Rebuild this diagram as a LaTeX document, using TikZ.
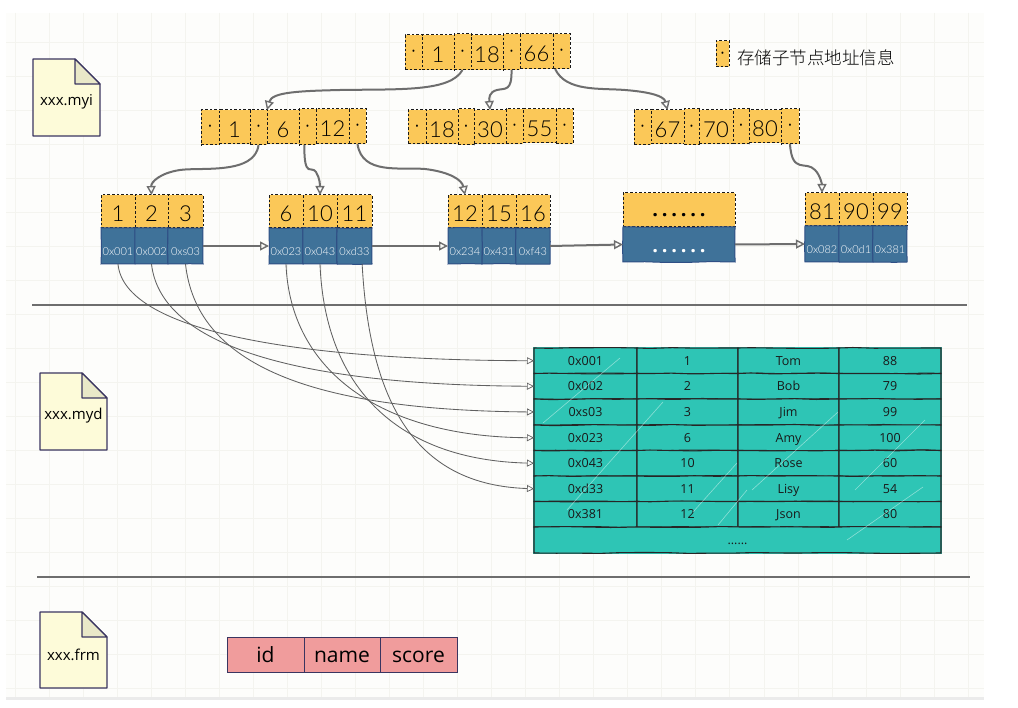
\documentclass[tikz,border=0pt]{standalone}
\usepackage{fontspec}
\setmainfont{Open Sans}
\newfontfamily\cjk{Noto Sans CJK SC Light}
\newfontfamily\hand{Lato Light}
\usetikzlibrary{arrows.meta,decorations.pathmorphing}
\definecolor{paper}{HTML}{FDFDFB}
\definecolor{gridc}{HTML}{F4F4EF}
\definecolor{keyy}{HTML}{FBC858}
\definecolor{leafb}{HTML}{3F7299}
\definecolor{leafe}{HTML}{2F4F85}
\definecolor{teal}{HTML}{2EC5B5}
\definecolor{pinkc}{HTML}{F09C9C}
\definecolor{filec}{HTML}{FDFBD9}
\definecolor{foldc}{HTML}{E9E8C8}
\definecolor{linec}{HTML}{6E6E6E}
\definecolor{filee}{HTML}{3A3560}
\newcommand\fs[1]{\fontsize{#1}{#1}\selectfont}
\newcommand\mkcell[7]{%
  \pgfmathsetmacro\cw{#4-#2}\pgfmathsetmacro\ch{#5-#3}%
  \node[#6,minimum width=\cw pt,minimum height=\ch pt] (#1) at ({(#2+#4)/2},{(#3+#5)/2}) {#7};}
\newcommand\ptr{\fs{9}•}
\newcommand\dotrow{.\kern3.8pt.\kern3.8pt.\kern3.8pt.\kern3.8pt.\kern3.8pt.}
\tikzset{
  base/.style={inner sep=0pt,outer sep=0pt,align=center},
  wob/.style={decorate,decoration={random steps,segment length=22pt,amplitude=.5pt}},
  dashbox/.style={base,fill=keyy,draw=black!90,line width=1pt,dash pattern=on 2.6pt off 2pt},
  keyc/.style={dashbox,font=\hand\fs{22},text height=21pt,text depth=0pt},
  ptrc/.style={dashbox},
  blue/.style={base,wob,fill=leafb,draw=leafe,line width=1pt,text=white,font=\hand\fs{11},text height=20pt,text depth=0pt},
  tab/.style={base,wob,fill=teal,draw=black!85,line width=1.1pt,font=\fs{12.5},text=black!90,text height=9pt,text depth=0pt},
  pink/.style={base,fill=pinkc,draw=filee,line width=1pt,font=\fs{21}},
  tree/.style={draw=linec,line width=2pt,-{Triangle[open,length=9pt,width=9pt,line width=1.4pt]}},
  thin link/.style={draw=black!62,line width=.85pt,-{Triangle[open,length=7pt,width=7pt,line width=.7pt]}},
  sep/.style={draw=linec,line width=1.4pt},
  filebody/.style={fill=filec,draw=filee,line width=1.1pt,line join=round},
  filefold/.style={fill=foldc,draw=filee,line width=1.1pt,line join=round},
  filetext/.style={base,font=\fs{15}},
  streak/.style={draw=white,line width=.6pt,opacity=.45},
}
\begin{document}
\begin{tikzpicture}[x=1pt,y=-1pt]
\pgfmathsetseed{7}
\useasboundingbox (0,0) rectangle (1018,708);
\fill[white] (0,0) rectangle (1018,708);
\fill[paper] (6,13) rectangle (984,697);
\foreach \i in {0,...,28} \draw[gridc,line width=.7pt] ({15+34.04*\i},13) -- ({15+34.04*\i},697);
\foreach \j in {0,...,19} \draw[gridc,line width=.7pt] (6,{42+34*\j}) -- (984,{42+34*\j});
\fill[black!8] (6,697) rectangle (984,699.5);

% separators
\coordinate (s1a) at (32,305); \coordinate (s1b) at (967,305);
\coordinate (s2a) at (37,577); \coordinate (s2b) at (970,577);
\draw[sep] (s1a) -- (s1b);
\draw[sep] (s2a) -- (s2b);

% root
\mkcell{r1}{405}{35}{422}{70}{ptrc}{\ptr}
\mkcell{rk1}{422}{35}{454}{70}{keyc}{1}
\mkcell{r2}{454}{34}{471}{70}{ptrc}{\ptr}
\mkcell{rk2}{471}{35}{503}{70}{keyc}{18}
\mkcell{r3}{503}{34}{520}{70}{ptrc}{\ptr}
\mkcell{rk3}{520}{34}{553}{69}{keyc}{66}
\mkcell{r4}{553}{34}{570}{69}{ptrc}{\ptr}

% level 2 left
\mkcell{a1}{201}{110}{219}{145}{ptrc}{\ptr}
\mkcell{ak1}{219}{110}{250}{144}{keyc}{1}
\mkcell{a2}{250}{110}{267}{145}{ptrc}{\ptr}
\mkcell{ak2}{267}{110}{299}{144}{keyc}{6}
\mkcell{a3}{299}{109}{316}{145}{ptrc}{\ptr}
\mkcell{ak3}{316}{109}{349}{144}{keyc}{12}
\mkcell{a4}{349}{109}{366}{144}{ptrc}{\ptr}

% level 2 middle
\mkcell{b1}{408}{110}{426}{144}{ptrc}{\ptr}
\mkcell{bk1}{426}{110}{458}{144}{keyc}{18}
\mkcell{b2}{458}{109}{474}{145}{ptrc}{\ptr}
\mkcell{bk2}{474}{110}{506}{144}{keyc}{30}
\mkcell{b3}{506}{109}{523}{144}{ptrc}{\ptr}
\mkcell{bk3}{523}{109}{556}{143}{keyc}{55}
\mkcell{b4}{556}{109}{573}{144}{ptrc}{\ptr}

% level 2 right
\mkcell{c1}{634}{110}{651}{145}{ptrc}{\ptr}
\mkcell{ck1}{651}{110}{684}{144}{keyc}{67}
\mkcell{c2}{684}{109}{699}{145}{ptrc}{\ptr}
\mkcell{ck2}{699}{110}{733}{144}{keyc}{70}
\mkcell{c3}{733}{109}{749}{144}{ptrc}{\ptr}
\mkcell{ck3}{749}{110}{781}{143}{keyc}{80}
\mkcell{c4}{781}{109}{799}{144}{ptrc}{\ptr}

% legend
\mkcell{lg}{716}{41}{729}{67}{ptrc}{\ptr}
\node[base,anchor=west,font=\cjk\fs{17.5}] (lgt) at (737,58) {存储子节点地址信息};

% leaves
\mkcell{k11}{101}{195}{135}{228}{keyc}{1}
\mkcell{k12}{135}{195}{168}{228}{keyc}{2}
\mkcell{k13}{168}{195}{203}{228}{keyc}{3}
\mkcell{p11}{101}{228}{135}{264}{blue}{0x001}
\mkcell{p12}{135}{228}{168}{264}{blue}{0x002}
\mkcell{p13}{168}{228}{203}{264}{blue}{0xs03}

\mkcell{k21}{269}{195}{303}{228}{keyc}{6}
\mkcell{k22}{303}{195}{337}{228}{keyc}{10}
\mkcell{k23}{337}{195}{372}{228}{keyc}{11}
\mkcell{p21}{269}{228}{303}{264}{blue}{0x023}
\mkcell{p22}{303}{228}{337}{264}{blue}{0x043}
\mkcell{p23}{337}{228}{372}{264}{blue}{0xd33}

\mkcell{k31}{448}{195}{482}{228}{keyc}{12}
\mkcell{k32}{482}{195}{516}{228}{keyc}{15}
\mkcell{k33}{516}{195}{550}{228}{keyc}{16}
\mkcell{p31}{448}{228}{482}{264}{blue}{0x234}
\mkcell{p32}{482}{228}{516}{264}{blue}{0x431}
\mkcell{p33}{516}{228}{550}{264}{blue}{0xf43}

\mkcell{k41}{623}{193}{735}{227}{keyc,font=\bfseries\fs{20},text height=14pt}{\dotrow}
\mkcell{p41}{623}{227}{735}{262}{blue,font=\bfseries\fs{20},text height=17pt}{\dotrow}

\mkcell{k51}{805}{193}{839}{226}{keyc}{81}
\mkcell{k52}{839}{193}{873}{226}{keyc}{90}
\mkcell{k53}{873}{193}{907}{226}{keyc}{99}
\mkcell{p51}{805}{226}{839}{262}{blue}{0x082}
\mkcell{p52}{839}{226}{873}{262}{blue}{0x0d1}
\mkcell{p53}{873}{226}{907}{262}{blue}{0x381}

% table
\fill[teal] (533,347) rectangle (942,554);
\newcommand\tabrow[7]{%
  \mkcell{t#1a}{534}{#2}{637}{#3}{tab}{#4}
  \mkcell{t#1b}{637}{#2}{738}{#3}{tab}{#5}
  \mkcell{t#1c}{738}{#2}{839}{#3}{tab}{#6}
  \mkcell{t#1d}{839}{#2}{941}{#3}{tab}{#7}}
\tabrow{1}{348}{373.5}{0x001}{1}{Tom}{88}
\tabrow{2}{373.5}{399}{0x002}{2}{Bob}{79}
\tabrow{3}{399}{425}{0xs03}{3}{Jim}{99}
\tabrow{4}{425}{450.5}{0x023}{6}{Amy}{100}
\tabrow{5}{450.5}{476}{0x043}{10}{Rose}{60}
\tabrow{6}{476}{501.5}{0xd33}{11}{Lisy}{54}
\tabrow{7}{501.5}{527}{0x381}{12}{Json}{80}
\mkcell{t8}{534}{527}{941}{553}{tab}{......}
\draw[streak] (543,423) -- (620,358);
\draw[streak] (567,510) -- (663,402);
\draw[streak] (693,512) -- (737,463);
\draw[streak] (718,525) -- (747,490);
\draw[streak] (847,540) -- (923,487);
\draw[streak] (752,490) -- (838,412);
\draw[streak] (855,490) -- (925,420);

% tree links
\draw[tree] (r2.south) .. controls (450,92) and (400,89) .. (340,90) .. controls (300,91) and (272,92) .. (ak2.north west);
\draw[tree] (r3.south) .. controls (512,92) and (505,88) .. (497,90) .. controls (489,92) and (489,98) .. (bk2.north);
\draw[tree] (r4.250) .. controls (566,92) and (600,88) .. (625,90) .. controls (650,92) and (664,96) .. (ck1.north);
\draw[tree] (a2.south) .. controls (255,175) and (200,167) .. (180,170) .. controls (160,173) and (151,182) .. (k12.north);
\draw[tree] (a3.260) .. controls (304,180) and (312,165) .. (316,172) .. controls (320,178) and (320,186) .. (k22.north);
\draw[tree] (a4.south) .. controls (362,175) and (400,167) .. (425,169) .. controls (450,172) and (462,180) .. (k31.north);
\draw[tree] (c4.south) .. controls (792,175) and (806,160) .. (815,170) .. controls (821,176) and (822,186) .. (k51.north);
\draw[tree] (p13.east) -- (p21.west);
\draw[tree] (p23.east) -- (p31.west);
\draw[tree] (p33.east) -- (p41.west);
\draw[tree] (p41.east) -- (p51.west);

% data links
\draw[thin link] (p11.south) .. controls (124,330) and (290,360) .. (t1a.west);
\draw[thin link] (p12.south) .. controls (160,340) and (280,385) .. (t2a.west);
\draw[thin link] (p13.south) .. controls (196,360) and (300,410) .. (t3a.west);
\draw[thin link] (p21.south) .. controls (290,370) and (380,437) .. (t4a.west);
\draw[thin link] (p22.south) .. controls (325,390) and (400,460) .. (t5a.west);
\draw[thin link] (p23.293) .. controls (370,410) and (420,485) .. (t6a.west);

% files
\newcommand\fileicon[6]{%
  \draw[filebody] (#2,#3) -- (#4-25,#3) -- (#4,#3+25) -- (#4,#5) -- (#2,#5) -- cycle;
  \draw[filefold] (#4-25,#3) -- (#4,#3+25) -- (#4-25,#3+25) -- cycle;
  \node[filetext] (#1) at ({(#2+#4)/2},{#3+43}) {#6};}
\fileicon{f1}{33}{59}{100}{136}{xxx.myi}
\fileicon{f2}{40}{373}{107}{450}{xxx.myd}
\fileicon{f3}{40}{612}{107}{688}{xxx.frm}

% columns
\mkcell{q1}{227}{637}{304}{672}{pink}{\raisebox{-3pt}{\vphantom{d}id}}
\mkcell{q2}{304}{637}{380}{672}{pink}{\raisebox{-3pt}{\vphantom{d}name}}
\mkcell{q3}{380}{637}{457}{672}{pink}{\raisebox{-3pt}{\vphantom{d}score}}
\end{tikzpicture}
\end{document}
